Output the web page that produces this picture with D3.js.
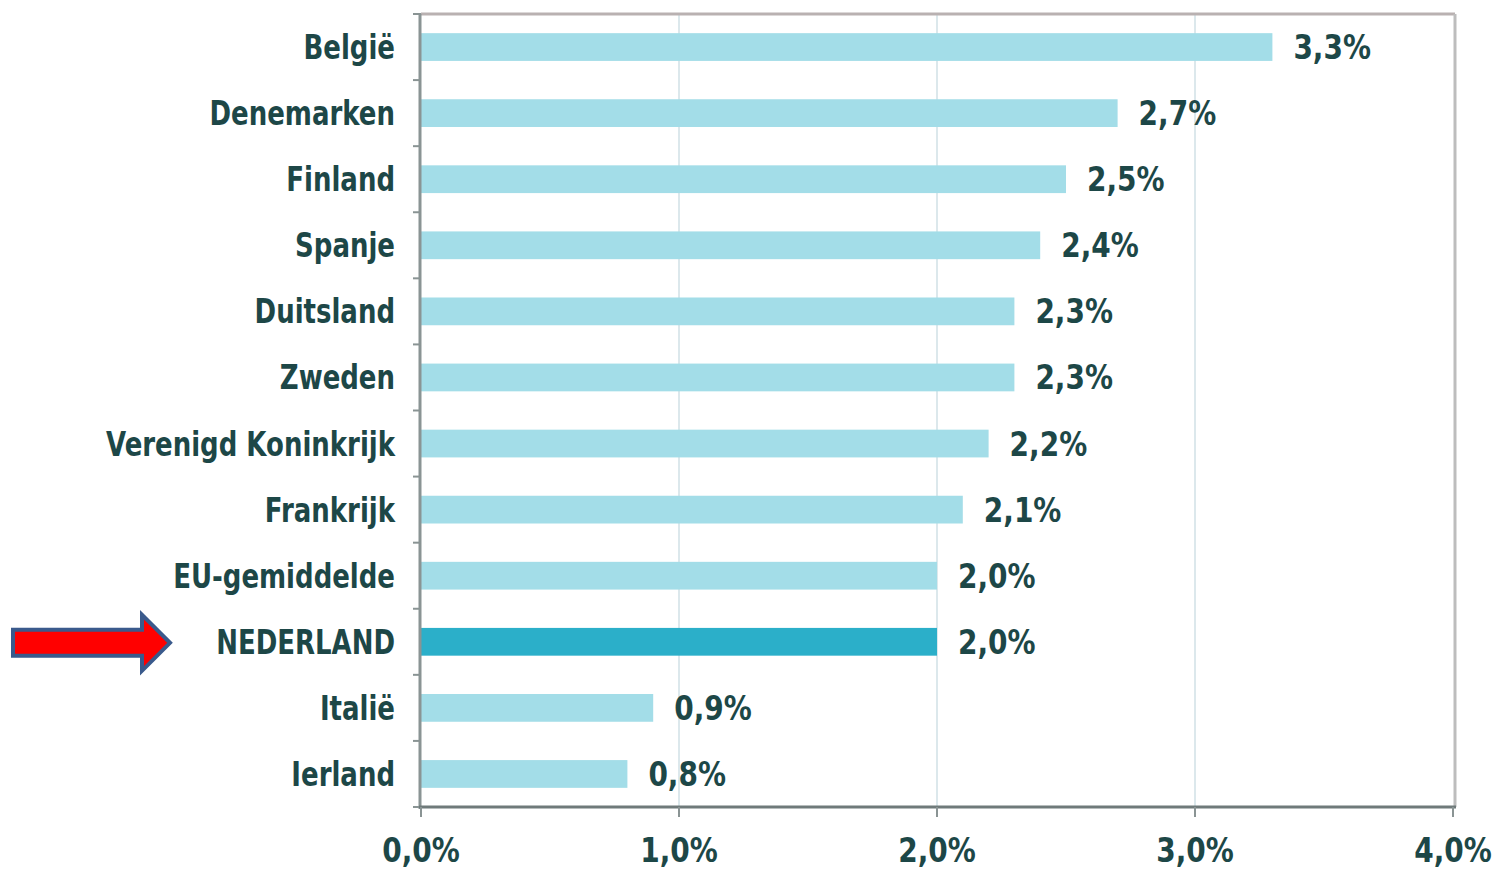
<!DOCTYPE html>
<html>
<head>
<meta charset="utf-8">
<script src="https://cdn.jsdelivr.net/npm/d3@7"></script>
<style>
  body { margin: 0; background: #fff; }
  text { font-family: "DejaVu Sans", Verdana, sans-serif; font-weight: bold; fill: #1d4747; }
</style>
</head>
<body>
<svg id="chart" width="1496" height="871"></svg>
<script>
const countries = ['België', 'Denemarken', 'Finland', 'Spanje', 'Duitsland', 'Zweden',
  'Verenigd Koninkrijk', 'Frankrijk', 'EU-gemiddelde', 'NEDERLAND', 'Italië', 'Ierland'];
const values = [3.3, 2.7, 2.5, 2.4, 2.3, 2.3, 2.2, 2.1, 2.0, 2.0, 0.9, 0.8];
const highlight = 'NEDERLAND';
const xTicks = [0, 1, 2, 3, 4];

const svg = d3.select('#chart');
const plotL = 421, plotR = 1453, plotT = 14, plotB = 807;

const x = d3.scaleLinear().domain([0, 4]).range([plotL, plotR]);
const y = d3.scaleBand().domain(countries).range([plotT, plotB])
  .paddingInner(0.58).paddingOuter(0.29);
const fmt = v => d3.format('.1f')(v).replace('.', ',') + '%';

// gridlines
svg.append('g').selectAll('line').data(xTicks.slice(1, -1)).join('line')
  .attr('x1', d => x(d)).attr('x2', d => x(d))
  .attr('y1', plotT).attr('y2', plotB)
  .attr('stroke', '#dce8ec').attr('stroke-width', 2);

// frame top / right
svg.append('line').attr('x1', plotL).attr('x2', plotR + 2).attr('y1', plotT).attr('y2', plotT)
  .attr('stroke', '#b9b1b1').attr('stroke-width', 3);
svg.append('line').attr('x1', plotR + 2).attr('x2', plotR + 2).attr('y1', plotT).attr('y2', plotB)
  .attr('stroke', '#bdbdbd').attr('stroke-width', 3);

// bars
svg.append('g').selectAll('rect').data(countries).join('rect')
  .attr('x', x(0))
  .attr('y', d => y(d))
  .attr('width', (d, i) => x(values[i]) - x(0))
  .attr('height', y.bandwidth())
  .attr('fill', d => d === highlight ? '#2bafc9' : '#a3dde8');

// left axis + ticks between categories
svg.append('line').attr('x1', plotL - 1).attr('x2', plotL - 1).attr('y1', plotT).attr('y2', plotB + 2)
  .attr('stroke', '#8a9494').attr('stroke-width', 3);
const bounds = d3.range(countries.length + 1).map(i => plotT + i * y.step());
svg.append('g').selectAll('line').data(bounds).join('line')
  .attr('x1', plotL - 8).attr('x2', plotL)
  .attr('y1', d => d).attr('y2', d => d)
  .attr('stroke', '#8a9494').attr('stroke-width', 2);

// bottom axis
svg.append('line').attr('x1', plotL - 2).attr('x2', plotR + 3).attr('y1', plotB).attr('y2', plotB)
  .attr('stroke', '#6f7a7a').attr('stroke-width', 3);
svg.append('g').selectAll('line').data(xTicks).join('line')
  .attr('x1', d => x(d)).attr('x2', d => x(d))
  .attr('y1', plotB).attr('y2', plotB + 10)
  .attr('stroke', '#8a9494').attr('stroke-width', 2);

// text in the picture is squashed sideways, so stretch it vertically
function label (g, tx, ty, str, anchor, size, stretch) {
  g.append('text')
    .attr('transform', `translate(${tx},${ty}) scale(1,${stretch})`)
    .attr('text-anchor', anchor)
    .attr('font-size', size)
    .text(str);
}

const labels = svg.append('g');
xTicks.forEach(t => label(labels, x(t), 862, fmt(t), 'middle', 28, 1.2));
countries.forEach((c, i) => {
  const cy = y(c) + y.bandwidth() / 2 + 12;
  label(labels, 395, cy, c, 'end', 26, 1.27);
  label(labels, x(values[i]) + 21, cy, fmt(values[i]), 'start', 28, 1.2);
});

// arrow pointing at NEDERLAND
const ay = y(highlight) + y.bandwidth() / 2 + 1;
const arrow = [[13, ay - 13], [142, ay - 13], [142, ay - 28], [170, ay],
  [142, ay + 28], [142, ay + 13], [13, ay + 13]];
svg.append('path')
  .attr('d', d3.line()(arrow) + 'Z')
  .attr('fill', '#ff0000')
  .attr('stroke', '#3a5a8c')
  .attr('stroke-width', 4)
  .attr('stroke-linejoin', 'miter');
</script>
</body>
</html>
